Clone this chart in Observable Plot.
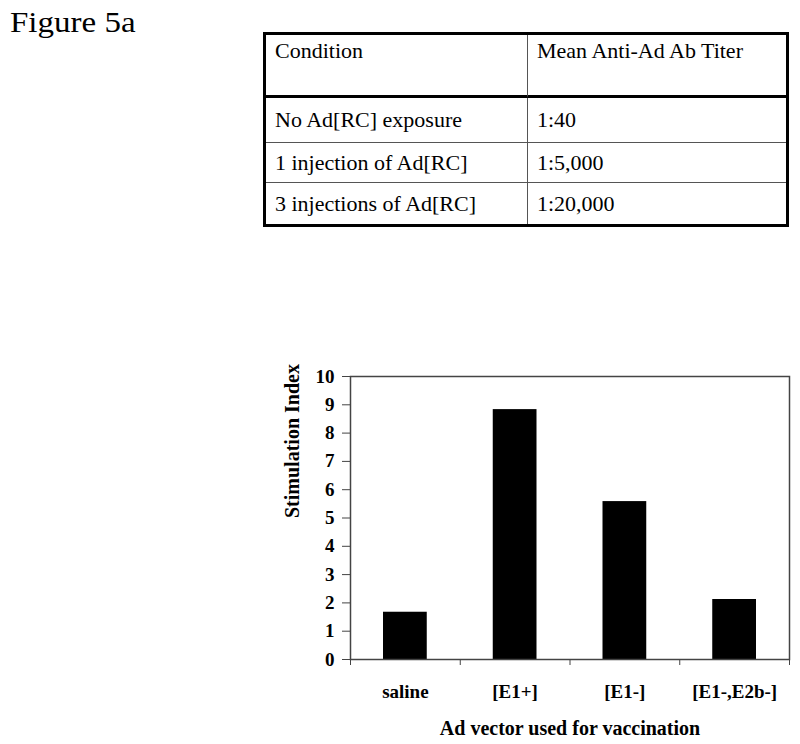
<!DOCTYPE html>
<html>
<head>
<meta charset="utf-8">
<script src="https://cdn.jsdelivr.net/npm/d3@7"></script>
<script src="https://cdn.jsdelivr.net/npm/@observablehq/plot@0.6"></script>
<style>
  html, body { margin: 0; padding: 0; background: white; }
  #page { position: relative; width: 800px; height: 744px; overflow: hidden; font-family: "Liberation Serif", "Times New Roman", serif; color: black; }
  .figlabel { position: absolute; left: 10px; font-size: 30px; line-height: 30px; transform: scaleX(1.1); transform-origin: left center; white-space: nowrap; }
  #tbl { position: absolute; left: 263px; top: 32px; width: 526px; border: 3px solid black; border-spacing: 0; border-collapse: separate; box-sizing: border-box; font-family: "Liberation Serif", "Times New Roman", serif; font-size: 22px; }
  #tbl td { padding: 0 0 0 9px; white-space: nowrap; vertical-align: middle; border-bottom: 1px solid #555; font-family: "Liberation Serif", "Times New Roman", serif; }
  #tbl td:first-child { border-right: 1px solid #555; width: 252px; }
  #tbl tr.head td { vertical-align: top; padding-top: 3px; border-bottom: 3px solid black; }
  #tbl tr:last-child td { border-bottom: none; }
  #chart { position: absolute; left: 0; top: 360px; }
</style>
</head>
<body>
<div id="page">
  <div class="figlabel" style="top:7px">Figure 5a</div>
  <table id="tbl"></table>
  <div class="figlabel" style="top:361px">Figure 5b</div>
  <div id="chart"></div>
</div>
<script>
// Table data (Figure 5a)
const tableHeaders = ["Condition", "Mean Anti-Ad Ab Titer"];
const conditions = ["No Ad[RC] exposure", "1 injection of Ad[RC]", "3 injections of Ad[RC]"];
const titers = ["1:40", "1:5,000", "1:20,000"];

// Bar chart data (Figure 5b)
const vectors = ["saline", "[E1+]", "[E1-]", "[E1-,E2b-]"];
const stimIndex = [1.67, 8.83, 5.58, 2.12];
const yTicks = [0, 1, 2, 3, 4, 5, 6, 7, 8, 9, 10];
const yTitle = "Stimulation Index";
const xTitle = "Ad vector used for vaccination";

// Build table
const rowHeights = [63, 45, 40, 41];
const tbl = document.getElementById("tbl");
const rows = [tableHeaders].concat(conditions.map((c, i) => [c, titers[i]]));
rows.forEach((r, i) => {
  const tr = document.createElement("tr");
  if (i === 0) tr.className = "head";
  tr.style.height = rowHeights[i] + "px";
  r.forEach(t => {
    const td = document.createElement("td");
    td.textContent = t;
    tr.appendChild(td);
  });
  tbl.appendChild(tr);
});

// Build chart
const data = vectors.map((v, i) => ({i, name: v, value: stimIndex[i]}));
const serif = "'Liberation Serif', 'Times New Roman', serif";

const chart = Plot.plot({
  width: 800,
  height: 384,
  marginTop: 16,
  marginBottom: 85,
  marginLeft: 350,
  marginRight: 11,
  style: {fontFamily: serif, fontSize: "19px", fontWeight: "bold", background: "white", color: "black"},
  x: {type: "linear", domain: [0, vectors.length]},
  y: {domain: [0, 10]},
  marks: [
    Plot.rectY(data, {x1: "i", x2: d => d.i + 1, y: "value", fill: "black", insetLeft: 33, insetRight: 33}),
    Plot.frame({stroke: "#444", strokeWidth: 1.5}),
    Plot.axisY({ticks: yTicks, tickSize: 8, tickPadding: 8, label: null, stroke: "#444", fontSize: 19}),
    Plot.axisX({ticks: d3.range(0, vectors.length + 1), tickSize: 6, tickFormat: () => "", label: null, stroke: "#444"}),
    Plot.axisX({ticks: vectors.map((_, i) => i + 0.5), tickSize: 0, tickPadding: 25, tickFormat: t => vectors[Math.floor(t)], label: null, fontSize: 19}),
    Plot.text([yTitle], {frameAnchor: "left", rotate: -90, dx: -58, text: d => d, fontSize: 20, fontWeight: "bold"}),
    Plot.text([xTitle], {frameAnchor: "bottom", dy: 75, text: d => d, fontSize: 20, fontWeight: "bold"})
  ]
});
document.getElementById("chart").appendChild(chart);
</script>
</body>
</html>
